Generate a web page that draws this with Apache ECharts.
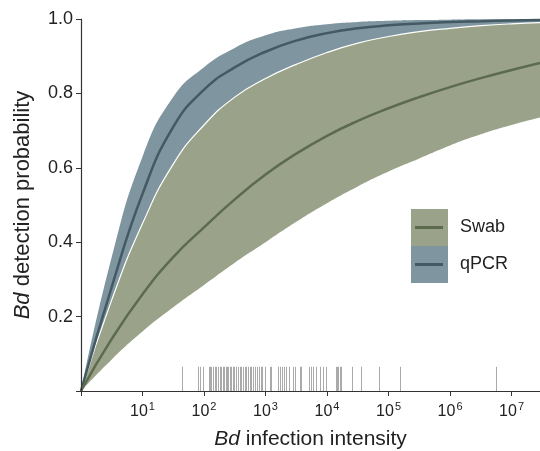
<!DOCTYPE html>
<html>
<head>
<meta charset="utf-8">
<script src="https://cdn.jsdelivr.net/npm/echarts@6/dist/echarts.min.js"></script>
<style>
  html, body { margin: 0; padding: 0; background: #fff; }
  #chart { width: 540px; height: 451px; }
</style>
</head>
<body>
<div id="chart"></div>
<script>
// infection intensity (x, log scale) at which the curves were read
const intensity = [1, 3.16, 10, 31.6, 100, 316, 1000, 3162, 10000, 31623,
  100000, 316228, 1000000, 3162278, 10000000, 29000000];

// qPCR detection probability: mean and upper bound (lower bound hidden under the swab band)
const qpcrMean  = [0, 0.28, 0.53, 0.71, 0.81, 0.87, 0.912, 0.942, 0.962, 0.975,
  0.983, 0.988, 0.992, 0.994, 0.996, 0.997];
const qpcrUpper = [0, 0.36, 0.63, 0.79, 0.87, 0.922, 0.956, 0.975, 0.986, 0.992,
  0.995, 0.997, 0.998, 0.999, 0.999, 1.0];

// swab detection probability: mean and interval
const swabMean  = [0, 0.14, 0.26, 0.36, 0.44, 0.515, 0.582, 0.638, 0.686, 0.726,
  0.76, 0.79, 0.817, 0.841, 0.863, 0.882];
const swabUpper = [0, 0.245, 0.45, 0.61, 0.715, 0.79, 0.84, 0.878, 0.91, 0.935,
  0.953, 0.966, 0.975, 0.982, 0.987, 0.99];
const swabLower = [0, 0.085, 0.16, 0.225, 0.285, 0.345, 0.40, 0.455, 0.505, 0.55,
  0.59, 0.625, 0.66, 0.69, 0.715, 0.735];

// observed infection intensities (rug)
const rugValues = [44, 79, 87, 96, 120, 126, 132, 139, 152, 158, 168, 179, 190, 202, 210, 224,
  235, 250, 260, 277, 294, 313, 334, 355, 378, 403, 428, 456, 486, 516, 550, 585, 621, 662,
  722, 778, 851, 884, 988, 1161, 1206, 1585, 1689, 1842, 1963, 2173, 2394, 2780, 2963, 3575,
  3806, 5058, 5536, 5876, 6671, 7750, 8545, 9705, 13750, 14430, 15000, 15970, 17030, 25000,
  36000, 69500, 155000, 5500000];
const rugHeight = 0.065;

const blueBand = '#7f959f';
const blueLine = '#435a64';
const greenBand = '#9aa389';
const greenLine = '#5d6b4d';
const font = 'Liberation Sans, Arial, Helvetica, sans-serif';

const pairs = (ys) => intensity.map((x, i) => [x, ys[i]]);

const chart = echarts.init(document.getElementById('chart'));

const option = {
  animation: false,
  textStyle: { fontFamily: font },
  grid: { left: 81, right: 0, top: 19, bottom: 60, containLabel: false, outerBoundsMode: 'none' },
  xAxis: {
    type: 'log',
    logBase: 10,
    min: 1,
    max: 29000000,
    interval: 1,
    z: 10,
    name: '{i|Bd} infection intensity',
    nameLocation: 'middle',
    nameGap: 38,
    nameTextStyle: {
      fontSize: 21, color: '#222', fontFamily: font,
      rich: { i: { fontSize: 21, fontStyle: 'italic', color: '#222', fontFamily: font } }
    },
    axisLine: { lineStyle: { color: '#333', width: 1.2 } },
    axisTick: { length: 5, lineStyle: { color: '#333' } },
    splitLine: { show: false },
    minorTick: { show: false },
    axisLabel: {
      margin: 10,
      color: '#222',
      formatter: (v) => {
        const lg = Math.log10(v);
        const e = Math.round(lg);
        if (Math.abs(lg - e) > 1e-6 || e === 0) return '';
        return '{b|10}{s|' + e + '}';
      },
      rich: {
        b: { fontSize: 16, color: '#222', fontFamily: font, verticalAlign: 'bottom' },
        s: { fontSize: 11, color: '#222', fontFamily: font, verticalAlign: 'bottom', padding: [0, 0, 8, 1] }
      }
    }
  },
  yAxis: {
    type: 'value',
    min: 0,
    max: 1,
    interval: 0.2,
    z: 10,
    name: '{i|Bd} detection probability',
    nameLocation: 'middle',
    nameGap: 47,
    nameTextStyle: {
      fontSize: 22, color: '#222', fontFamily: font,
      rich: { i: { fontSize: 22, fontStyle: 'italic', color: '#222', fontFamily: font } }
    },
    axisLine: { show: true, lineStyle: { color: '#333', width: 1.2 } },
    axisTick: { show: true, length: 5, lineStyle: { color: '#333' } },
    splitLine: { show: false },
    axisLabel: {
      fontSize: 18,
      color: '#222',
      margin: 8,
      formatter: (v) => (v === 0 ? '' : v.toFixed(1))
    }
  },
  legend: [
    {
      orient: 'vertical',
      left: 411,
      top: 209,
      padding: 0,
      z: 20,
      icon: 'rect',
      itemWidth: 37,
      itemHeight: 37,
      itemGap: 0,
      selectedMode: false,
      itemStyle: { borderWidth: 0 },
      textStyle: { fontSize: 18, color: '#222', fontFamily: font, padding: [0, 0, 0, 7] },
      data: ['Swab', 'qPCR']
    },
    {
      orient: 'vertical',
      left: 415,
      top: 226,
      padding: 0,
      z: 21,
      icon: 'rect',
      itemWidth: 28,
      itemHeight: 3,
      itemGap: 34,
      selectedMode: false,
      itemStyle: { borderWidth: 0 },
      textStyle: { fontSize: 1, lineHeight: 3 },
      formatter: () => '',
      data: ['Swab line', 'qPCR line']
    }
  ],
  series: [
    // qPCR band: filled from its upper bound down
    {
      name: 'qPCR', type: 'line', data: pairs(qpcrUpper),
      smooth: true, symbol: 'none', color: blueBand,
      lineStyle: { width: 0, opacity: 0 },
      areaStyle: { color: blueBand, opacity: 1 }, silent: true, z: 1
    },
    // swab band: upper bound with white edge, then cleared below its lower bound
    {
      name: 'Swab', type: 'line', data: pairs(swabUpper),
      smooth: true, symbol: 'none', color: greenBand,
      lineStyle: { width: 1.2, color: '#ffffff' },
      areaStyle: { color: greenBand, opacity: 1 }, silent: true, z: 2
    },
    {
      name: 'Swab lower', type: 'line', data: pairs(swabLower),
      smooth: true, symbol: 'none', color: '#ffffff',
      lineStyle: { width: 0, opacity: 0 },
      areaStyle: { color: '#ffffff', opacity: 1 }, silent: true, z: 2
    },
    // mean curves
    {
      name: 'qPCR line', type: 'line', data: pairs(qpcrMean), smooth: true, symbol: 'none',
      color: blueLine, lineStyle: { width: 2.5, color: blueLine }, silent: true, z: 3
    },
    {
      name: 'Swab line', type: 'line', data: pairs(swabMean), smooth: true, symbol: 'none',
      color: greenLine, lineStyle: { width: 2.5, color: greenLine }, silent: true, z: 3
    },
    // rug of observed intensities
    {
      name: 'rug', type: 'custom', silent: true, z: 3,
      data: rugValues.map((v) => [v, rugHeight]),
      encode: { x: 0, y: 1 },
      renderItem: (params, api) => {
        const top = api.coord([api.value(0), api.value(1)]);
        const bottom = api.coord([api.value(0), 0]);
        const x = Math.round(top[0]) + 0.5;
        return {
          type: 'line',
          shape: { x1: x, y1: top[1], x2: x, y2: bottom[1] },
          style: { stroke: 'rgba(85,85,85,0.5)', lineWidth: 1 }
        };
      }
    }
  ]
};

chart.setOption(option);
</script>
</body>
</html>
